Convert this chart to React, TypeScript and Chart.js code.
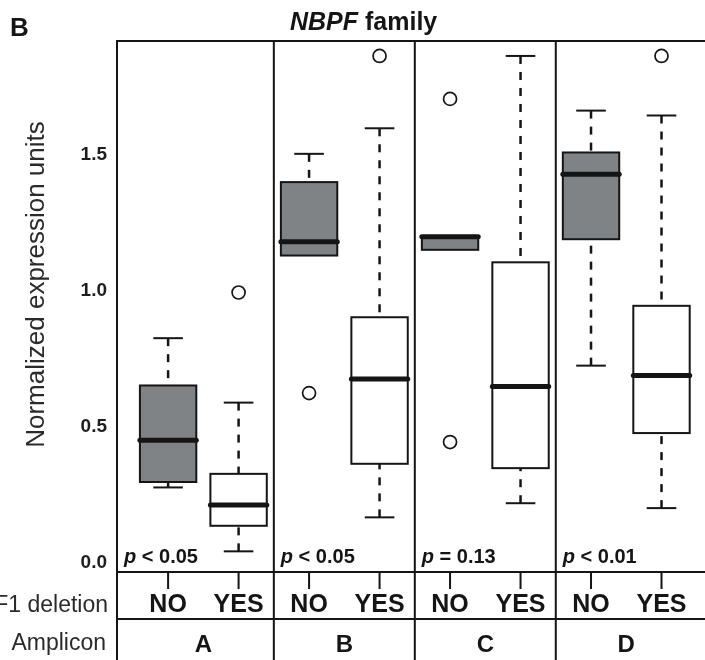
import React, { useEffect, useRef } from 'react';
import { Chart, registerables } from 'chart.js';

Chart.register(...registerables);

// ---- data ----
const AMPLICONS = ['A', 'B', 'C', 'D'];
const DELETION = ['NO', 'YES'];
const P_TEXT = ['< 0.05', '< 0.05', '= 0.13', '< 0.01'];
const Y_TICKS = [0, 0.5, 1.0, 1.5];
// one entry per box: A-NO, A-YES, B-NO, B-YES, C-NO, C-YES, D-NO, D-YES
const WHISK_LO = [0.277, 0.042, 1.13, 0.167, 1.151, 0.219, 0.725, 0.201];
const Q1 = [0.297, 0.136, 1.13, 0.364, 1.151, 0.348, 1.19, 0.477];
const MEDIAN = [0.451, 0.212, 1.181, 0.676, 1.199, 0.648, 1.429, 0.689];
const Q3 = [0.652, 0.327, 1.4, 0.903, 1.2, 1.105, 1.509, 0.945];
const WHISK_HI = [0.826, 0.589, 1.504, 1.598, 1.2, 1.864, 1.663, 1.645];
const OUTLIERS: number[][] = [[], [0.994], [0.624], [1.864], [1.706, 0.444], [], [], [1.864]];

const FONT = '"Liberation Sans", Arial, Helvetica, sans-serif';
const INK = '#151515';
const GRAY_FILL = '#808386';

const boxPlugin = {
  id: 'boxPlugin',
  beforeDatasetsDraw(chart: any) {
    const { ctx } = chart;
    const xs = chart.scales.x;
    const ys = chart.scales.y;
    ctx.save();
    for (let i = 0; i < MEDIAN.length; i++) {
      const cx = xs.getPixelForValue(i);
      const bl = xs.getPixelForValue(i - 0.4);
      const br = xs.getPixelForValue(i + 0.4);
      const cl = xs.getPixelForValue(i - 0.21);
      const cr = xs.getPixelForValue(i + 0.21);
      const yq1 = ys.getPixelForValue(Q1[i]);
      const yq3 = ys.getPixelForValue(Q3[i]);
      const ymed = ys.getPixelForValue(MEDIAN[i]);
      const ylo = ys.getPixelForValue(WHISK_LO[i]);
      const yhi = ys.getPixelForValue(WHISK_HI[i]);
      ctx.strokeStyle = INK;
      // whiskers
      const whisk = (yEnd: number, yBox: number) => {
        ctx.setLineDash([8, 8]);
        ctx.lineWidth = 2.5;
        ctx.lineCap = 'butt';
        ctx.beginPath();
        ctx.moveTo(cx, yEnd);
        ctx.lineTo(cx, yBox);
        ctx.stroke();
        ctx.setLineDash([]);
        ctx.lineWidth = 2;
        ctx.beginPath();
        ctx.moveTo(cl, yEnd);
        ctx.lineTo(cr, yEnd);
        ctx.stroke();
      };
      if (WHISK_HI[i] - Q3[i] > 0.005) whisk(yhi, yq3);
      if (Q1[i] - WHISK_LO[i] > 0.005) whisk(ylo, yq1);
      // box
      ctx.setLineDash([]);
      ctx.fillStyle = i % 2 === 0 ? GRAY_FILL : '#ffffff';
      ctx.fillRect(bl, yq3, br - bl, yq1 - yq3);
      ctx.lineWidth = 2;
      ctx.strokeRect(bl, yq3, br - bl, yq1 - yq3);
      // median
      ctx.lineWidth = 5;
      ctx.lineCap = 'round';
      ctx.beginPath();
      ctx.moveTo(bl, ymed);
      ctx.lineTo(br, ymed);
      ctx.stroke();
    }
    ctx.restore();
  },
  afterDraw(chart: any) {
    const { ctx, chartArea, width } = chart;
    const xs = chart.scales.x;
    const { left, top, bottom } = chartArea;
    const rowSep = 619;
    const H = chart.height;
    ctx.save();
    ctx.strokeStyle = INK;
    ctx.lineWidth = 2;
    ctx.setLineDash([]);
    ctx.lineCap = 'butt';
    // frame
    ctx.beginPath();
    ctx.moveTo(left, top);
    ctx.lineTo(width, top);
    ctx.moveTo(left, bottom);
    ctx.lineTo(width, bottom);
    ctx.moveTo(left, rowSep);
    ctx.lineTo(width, rowSep);
    ctx.moveTo(left, top - 1);
    ctx.lineTo(left, H);
    for (let g = 1; g < AMPLICONS.length; g++) {
      const px = xs.getPixelForValue(2 * g - 0.5);
      ctx.moveTo(px, top);
      ctx.lineTo(px, H);
    }
    // x tick marks
    for (let i = 0; i < MEDIAN.length; i++) {
      const px = xs.getPixelForValue(i);
      ctx.moveTo(px, bottom);
      ctx.lineTo(px, bottom + 17);
    }
    ctx.stroke();

    // deletion labels
    ctx.fillStyle = INK;
    ctx.textAlign = 'center';
    ctx.textBaseline = 'alphabetic';
    ctx.font = `bold 25px ${FONT}`;
    for (let i = 0; i < MEDIAN.length; i++) {
      ctx.fillText(DELETION[i % 2], xs.getPixelForValue(i), 611.5);
    }
    // amplicon letters
    ctx.font = `bold 24px ${FONT}`;
    for (let g = 0; g < AMPLICONS.length; g++) {
      ctx.fillText(AMPLICONS[g], xs.getPixelForValue(2 * g + 0.5), 651.5);
    }
    // p values
    ctx.textAlign = 'left';
    for (let g = 0; g < AMPLICONS.length; g++) {
      const pl = g === 0 ? left : xs.getPixelForValue(2 * g - 0.5);
      let x0 = pl + 7;
      ctx.font = `italic bold 20px ${FONT}`;
      ctx.fillText('p', x0, 563);
      x0 += ctx.measureText('p ').width;
      ctx.font = `bold 20px ${FONT}`;
      ctx.fillText(P_TEXT[g], x0, 563);
    }
    // row titles
    ctx.fillStyle = '#2a2a2a';
    ctx.textAlign = 'right';
    ctx.font = `23px ${FONT}`;
    ctx.fillText('NBPF1 deletion', 108, 612);
    ctx.fillText('Amplicon', 106, 650);
    // y title
    ctx.save();
    ctx.translate(44, 284.5);
    ctx.rotate(-Math.PI / 2);
    ctx.textAlign = 'center';
    ctx.font = `26px ${FONT}`;
    ctx.fillText('Normalized expression units', 0, 0);
    ctx.restore();
    // panel letter and title
    ctx.fillStyle = INK;
    ctx.textAlign = 'left';
    ctx.font = `bold 26px ${FONT}`;
    ctx.fillText('B', 10, 36);
    ctx.font = `italic bold 25px ${FONT}`;
    ctx.fillText('NBPF', 290, 30);
    const w1 = ctx.measureText('NBPF').width;
    ctx.font = `bold 25px ${FONT}`;
    ctx.fillText(' family', 290 + w1, 30);
    ctx.restore();
  },
};

export default function App() {
  const ref = useRef<HTMLCanvasElement | null>(null);
  useEffect(() => {
    if (!ref.current) return;
    const outlierPoints: { x: number; y: number }[] = [];
    OUTLIERS.forEach((arr, i) => arr.forEach((v) => outlierPoints.push({ x: i, y: v })));
    const chart = new Chart(ref.current, {
      type: 'scatter',
      data: {
        datasets: [
          {
            data: outlierPoints,
            pointStyle: 'circle',
            pointRadius: 6.5,
            pointHoverRadius: 6.5,
            pointBorderWidth: 1.7,
            borderColor: INK,
            backgroundColor: 'rgba(0,0,0,0)',
            clip: false as any,
          },
        ],
      },
      options: {
        animation: false,
        responsive: false,
        events: [],
        layout: { padding: { top: 41, bottom: 88, left: 0, right: 4 } },
        plugins: { legend: { display: false }, tooltip: { enabled: false } },
        scales: {
          x: { type: 'linear', min: -0.725, max: 7.6, display: false },
          y: {
            type: 'linear',
            position: 'left',
            min: -0.034,
            max: 1.919,
            grid: { display: false, drawTicks: false },
            border: { display: false },
            afterBuildTicks: (scale: any) => {
              scale.ticks = Y_TICKS.map((v) => ({ value: v }));
            },
            afterFit: (scale: any) => {
              scale.width = 117;
            },
            ticks: {
              padding: 10,
              color: '#1e1e1e',
              font: { family: FONT, size: 19, weight: 'bold' },
              callback: (v: any) => Number(v).toFixed(1),
            },
          },
        },
      },
      plugins: [boxPlugin],
    });
    return () => chart.destroy();
  }, []);
  return (
    <div style={{ position: 'fixed', left: 0, top: 0, width: 705, height: 660, overflow: 'hidden', background: '#fff' }}>
      <canvas ref={ref} width={712} height={660} style={{ display: 'block' }} />
    </div>
  );
}
